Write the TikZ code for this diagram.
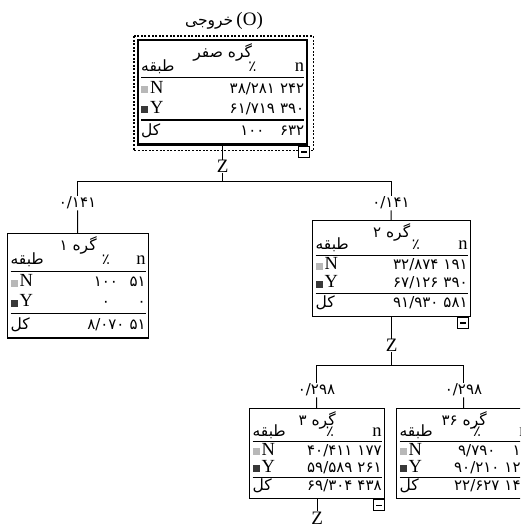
\documentclass[tikz,border=0pt]{standalone}
\usepackage{fontspec}
\setmainfont{Liberation Serif}
\newfontfamily\farsi[Script=Arabic]{DejaVu Sans}
\newfontfamily\farsinum{DejaVu Sans}
\usepackage{booktabs}
\usetikzlibrary{positioning}
\TeXXeTstate=1
\definecolor{catN}{gray}{0.72}
\definecolor{catY}{gray}{0.22}

\newcommand{\fa}[1]{{\farsi\fontsize{15.5}{15.5}\selectfont\beginR #1\endR}}
\newcommand{\fnum}[1]{{\farsinum\fontsize{15}{15}\selectfont #1}}
\newcommand{\sq}[1]{\textcolor{#1}{\rule{7pt}{7pt}}\hspace{2pt}}
% width, row skip, title, N %, N n, Y %, Y n, total %, total n
\newcommand{\gtable}[9]{%
  \fontsize{18.5}{#2}\selectfont
  \begin{tabular*}{#1}{@{}l@{\extracolsep{\fill}}c@{\extracolsep{0pt}\hspace{5pt}}r@{}}
    \multicolumn{3}{c}{\fa{#3}}\\[-6pt]
    \fa{طبقه} & \fnum{٪} & n\\
    \specialrule{1.2pt}{0pt}{1pt}
    \sq{catN}N & \fnum{#4} & \fnum{#5}\\
    \sq{catY}Y & \fnum{#6} & \fnum{#7}\\
    \specialrule{1.2pt}{0pt}{1pt}
    \fa{کل} & \fnum{#8} & \fnum{#9}
  \end{tabular*}}

\begin{document}
\begin{tikzpicture}[x=1pt, y=-1pt,
    tbox/.style={draw, line width=1.3pt, inner sep=3pt, anchor=north west, fill=white},
    sel/.style={line width=1.2pt, dash pattern=on 2pt off 1.6pt},
    btn/.style={draw, fill=white, line width=1.1pt, minimum width=11pt,
                minimum height=11pt, inner sep=0pt, anchor=north east},
    zlab/.style={font=\fontsize{19}{19}\selectfont, inner sep=0pt},
    wlab/.style={inner sep=1pt},
    link/.style={line width=1pt}
  ]
  \useasboundingbox (0,0) rectangle (520,532);
  \clip (0,0) rectangle (520,532);

  % root
  \node[font=\fontsize{19}{19}\selectfont] (cap) at (224,21) {\fa{خروجی}\,(O)};
  \node[tbox, line width=2.4pt] (n0) at (137,39)
    {\gtable{163pt}{20pt}{گره صفر}{۳۸/۲۸۱}{۲۴۲}{۶۱/۷۱۹}{۳۹۰}{۱۰۰}{۶۳۲}};
  \draw[sel] ([shift={(-3pt,3pt)}]n0.north west) rectangle ([shift={(5pt,-5pt)}]n0.south east);
  \node[btn] (b0) at ([xshift=2pt]n0.south east) {\rule{6pt}{1.6pt}};
  \node[zlab, below=14pt of n0] (z0) {Z};
  \coordinate[below=9pt of z0] (j0);

  % first split
  \node[wlab] (w1) at (77.5,203) {\fnum{۰/۱۴۱}};
  \node[wlab] (w2) at (391,203) {\fnum{۰/۱۴۱}};
  \node[tbox] (n1) at (7,233)
    {\gtable{135pt}{20pt}{گره \fnum{۱}}{۱۰۰}{۵۱}{۰}{۰}{۸/۰۷۰}{۵۱}};
  \node[tbox] (n2) at (312,220)
    {\gtable{152pt}{18pt}{گره \fnum{۲}}{۳۲/۸۷۴}{۱۹۱}{۶۷/۱۲۶}{۳۹۰}{۹۱/۹۳۰}{۵۸۱}};
  \node[btn] (b2) at ([xshift=-2pt]n2.south east) {\rule{6pt}{1.6pt}};
  \draw[link] (n0) -- (z0);
  \draw[link] (z0) -- (j0);
  \draw[link] (j0) -| (w1);
  \draw[link] (j0) -| (w2);
  \draw[link] (w1) -- (n1);
  \draw[link] (w2) -- (n2);

  % second split
  \node[zlab, below=22pt of n2] (z2) {Z};
  \coordinate[below=14pt of z2] (j2);
  \node[wlab] (w3) at (316.5,390) {\fnum{۰/۲۹۸}};
  \node[wlab] (w36) at (463.5,390) {\fnum{۰/۲۹۸}};
  \node[tbox] (n3) at (249,408)
    {\gtable{129pt}{16pt}{گره \fnum{۳}}{۴۰/۴۱۱}{۱۷۷}{۵۹/۵۸۹}{۲۶۱}{۶۹/۳۰۴}{۴۳۸}};
  \node[tbox] (n36) at (396,408)
    {\gtable{129pt}{16pt}{گره \fnum{۳۶}}{۹/۷۹۰}{۱۴}{۹۰/۲۱۰}{۱۲۹}{۲۲/۶۲۷}{۱۴۳}};
  \node[btn] (b3) at (n3.south east) {\rule{6pt}{1.6pt}};
  \node[zlab, below=12pt of n3] (z3) {Z};
  \draw[link] (n2) -- (z2);
  \draw[link] (z2) -- (j2);
  \draw[link] (j2) -| (w3);
  \draw[link] (j2) -| (w36);
  \draw[link] (w3) -- (n3);
  \draw[link] (w36) -- (n36);
  \draw[link] (n3) -- (z3);
\end{tikzpicture}
\end{document}
